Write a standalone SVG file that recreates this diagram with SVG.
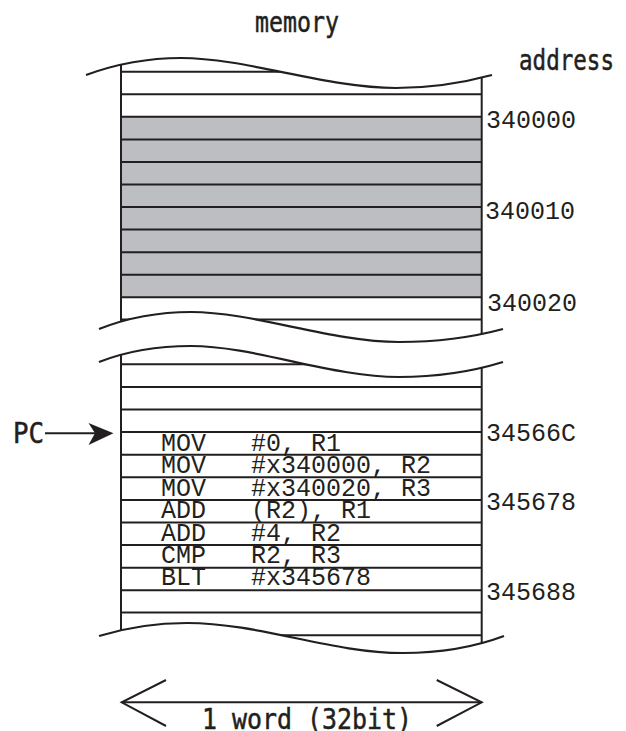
<svg xmlns="http://www.w3.org/2000/svg" width="626" height="731" viewBox="0 0 626 731">
<style>
.ln{stroke:#231f20;stroke-width:2;fill:none}
.cv{stroke:#231f20;stroke-width:2.2;fill:none}
.gray{fill:#bcbec1}
.lab{font-family:"DejaVu Sans Mono","Liberation Mono",monospace;font-size:28px;fill:#231f20;stroke:#231f20;stroke-width:0.5}
.code{font-family:"Liberation Mono","Courier New",monospace;font-size:25px;fill:#231f20}
</style>
<defs>
<clipPath id="clipTop">
<path d="M86,75 C116,64 146,58 181,58 C246,58 326,88 396,88 C436,88 466,82 492,75 L503,329 C477,336 444,342 399,342 C331,342 254,312 191,312 C157,312 127,318 99,329 Z"/>
</clipPath>
<clipPath id="clipBot">
<path d="M99,362 C127,351 157,346 191,346 C254,346 331,377 399,377 C444,377 477,370 503,362 L504,636 C480,645 450,653 403,653 C330,653 260,623 187,623 C155,623 125,628 99,636 Z"/>
</clipPath>
</defs>
<rect width="626" height="731" fill="#ffffff"/>

<g id="memory-title"><text class="lab" x="255" y="31.7" textLength="84" lengthAdjust="spacingAndGlyphs">memory</text></g>
<g id="address-title"><text class="lab" x="519" y="70" textLength="95" lengthAdjust="spacingAndGlyphs">address</text></g>

<g id="memory-top">
<g clip-path="url(#clipTop)">
<rect x="121" y="50" width="361" height="300" fill="#ffffff"/>
<rect class="gray" x="121" y="116.8" width="361" height="180.5"/>
<path class="ln" d="M121,71.7H482 M121,94.3H482 M121,116.8H482 M121,139.4H482 M121,161.9H482 M121,184.5H482 M121,207.1H482 M121,229.6H482 M121,252.2H482 M121,274.7H482 M121,297.3H482 M121,319.6H482"/>
<path class="ln" d="M121,50V345 M481.7,50V345"/>
</g>
<path class="cv" d="M86,75 C116,64 146,58 181,58 C246,58 326,88 396,88 C436,88 466,82 492,75"/>
<path class="cv" d="M99,329 C127,318 157,312 191,312 C254,312 331,342 399,342 C444,342 477,336 503,329"/>
</g>

<g id="memory-bottom">
<g clip-path="url(#clipBot)">
<rect x="121" y="340" width="361" height="320" fill="#ffffff"/>
<path class="ln" d="M121,364.3H482 M121,386.9H482 M121,409.5H482 M121,432.1H482 M121,454.7H482 M121,477.3H482 M121,499.9H482 M121,522.5H482 M121,545.1H482 M121,567.7H482 M121,590.3H482 M121,612.6H482 M121,635.3H482"/>
<path class="ln" d="M121,340V660 M481.7,340V660"/>
</g>
<path class="cv" d="M99,362 C127,351 157,346 191,346 C254,346 331,377 399,377 C444,377 477,370 503,362"/>
<path class="cv" d="M99,636 C125,628 155,623 187,623 C260,623 330,653 403,653 C450,653 480,645 504,636"/>
</g>

<g id="addresses">
<text class="code" x="486" y="128.3">340000</text>
<text class="code" x="485" y="219.3">340010</text>
<text class="code" x="487" y="310.5">340020</text>
<text class="code" x="486" y="440.7">34566C</text>
<text class="code" x="486" y="510">345678</text>
<text class="code" x="486" y="600">345688</text>
</g>

<g id="instructions">
<text class="code" x="161" y="451">MOV</text><text class="code" x="251" y="451">#0, R1</text>
<text class="code" x="161" y="473.3">MOV</text><text class="code" x="251" y="473.3">#x340000, R2</text>
<text class="code" x="161" y="495.5">MOV</text><text class="code" x="251" y="495.5">#x340020, R3</text>
<text class="code" x="161" y="518.3">ADD</text><text class="code" x="251" y="518.3">(R2), R1</text>
<text class="code" x="161" y="540.5">ADD</text><text class="code" x="251" y="540.5">#4, R2</text>
<text class="code" x="161" y="562.7">CMP</text><text class="code" x="251" y="562.7">R2, R3</text>
<text class="code" x="161" y="585">BLT</text><text class="code" x="251" y="585">#x345678</text>
</g>

<g id="pc-label"><text class="lab" x="13" y="443.3" textLength="31" lengthAdjust="spacingAndGlyphs">PC</text></g>

<g id="word-label"><text class="lab" x="202" y="729" textLength="210" lengthAdjust="spacingAndGlyphs">1 word (32bit)</text></g>

<g id="connectors">
<path class="ln" d="M45,433.3H96"/>
<path d="M113.5,433.3 L88.5,423 L95,433.3 L88.5,445 Z" fill="#231f20"/>
<path class="ln" d="M121.7,702.3H481.7"/>
<path class="ln" d="M166,680 L121.7,702.3 L166,726"/>
<path class="ln" d="M436.7,680 L481.7,702.3 L436.7,726"/>
</g>
</svg>
